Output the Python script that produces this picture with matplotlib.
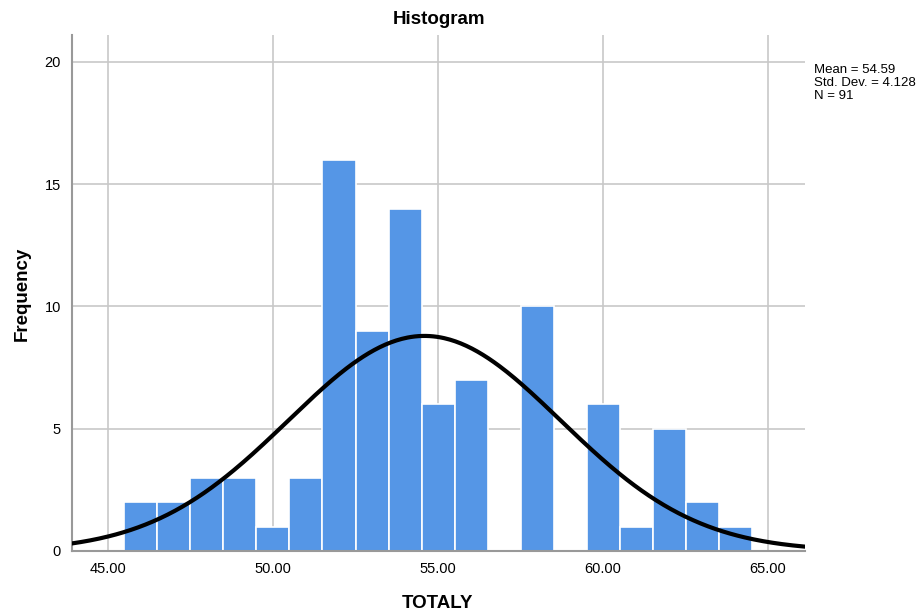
import matplotlib.pyplot as plt
import numpy as np

plt.rcParams['font.family'] = ['Liberation Sans', 'DejaVu Sans']

# Histogram bins (width 1) and frequencies
bin_edges = np.arange(45.5, 65.0, 1.0)
counts = [2, 2, 3, 3, 1, 3, 16, 9, 14, 6, 7, 0, 10, 0, 6, 1, 5, 2, 1]
mean = 54.59
std = 4.128
n = 91

fig = plt.figure(figsize=(9.22, 6.12), dpi=100)
ax = fig.add_axes([0.0781, 0.0997, 0.7950, 0.8431])

# Bars
ax.bar(bin_edges[:-1], counts, width=1.0, align='edge',
       color='#5596e6', edgecolor='white', linewidth=1.2, zorder=2)

# Normal curve scaled to counts
x = np.linspace(43.9, 66.2, 400)
y = n * 1.0 / (std * np.sqrt(2 * np.pi)) * np.exp(-0.5 * ((x - mean) / std) ** 2)
ax.plot(x, y, color='black', linewidth=3, zorder=3)

ax.set_xlim(43.91, 66.12)
ax.set_ylim(0, 21.1)
ax.set_xticks([45, 50, 55, 60, 65])
ax.set_xticklabels(['45.00', '50.00', '55.00', '60.00', '65.00'])
ax.set_yticks([0, 5, 10, 15, 20])
ax.tick_params(length=0, labelsize=10.5, pad=8)
ax.grid(True, color='#c8c8c8', linewidth=1.2, zorder=0)
ax.set_axisbelow(True)

for s in ['top', 'right']:
    ax.spines[s].set_visible(False)
for s in ['left', 'bottom']:
    ax.spines[s].set_color('#999999')
    ax.spines[s].set_linewidth(1.5)

ax.set_title('Histogram', fontsize=13.5, fontweight='bold', pad=8)

# axis titles placed in figure coordinates
fig.text(0.475, 0.014, 'TOTALY', fontsize=13.5, fontweight='bold',
         ha='center', va='center')
fig.text(0.024, 0.52, 'Frequency', fontsize=13.5, fontweight='bold',
         ha='center', va='center', rotation=90)

fig.text(0.883, 0.896, f'Mean = {mean:.2f}\nStd. Dev. = {std:.3f}\nN = {n}',
         fontsize=9.5, va='top', ha='left', linespacing=1.15)

fig.savefig('out.png', dpi=100)
